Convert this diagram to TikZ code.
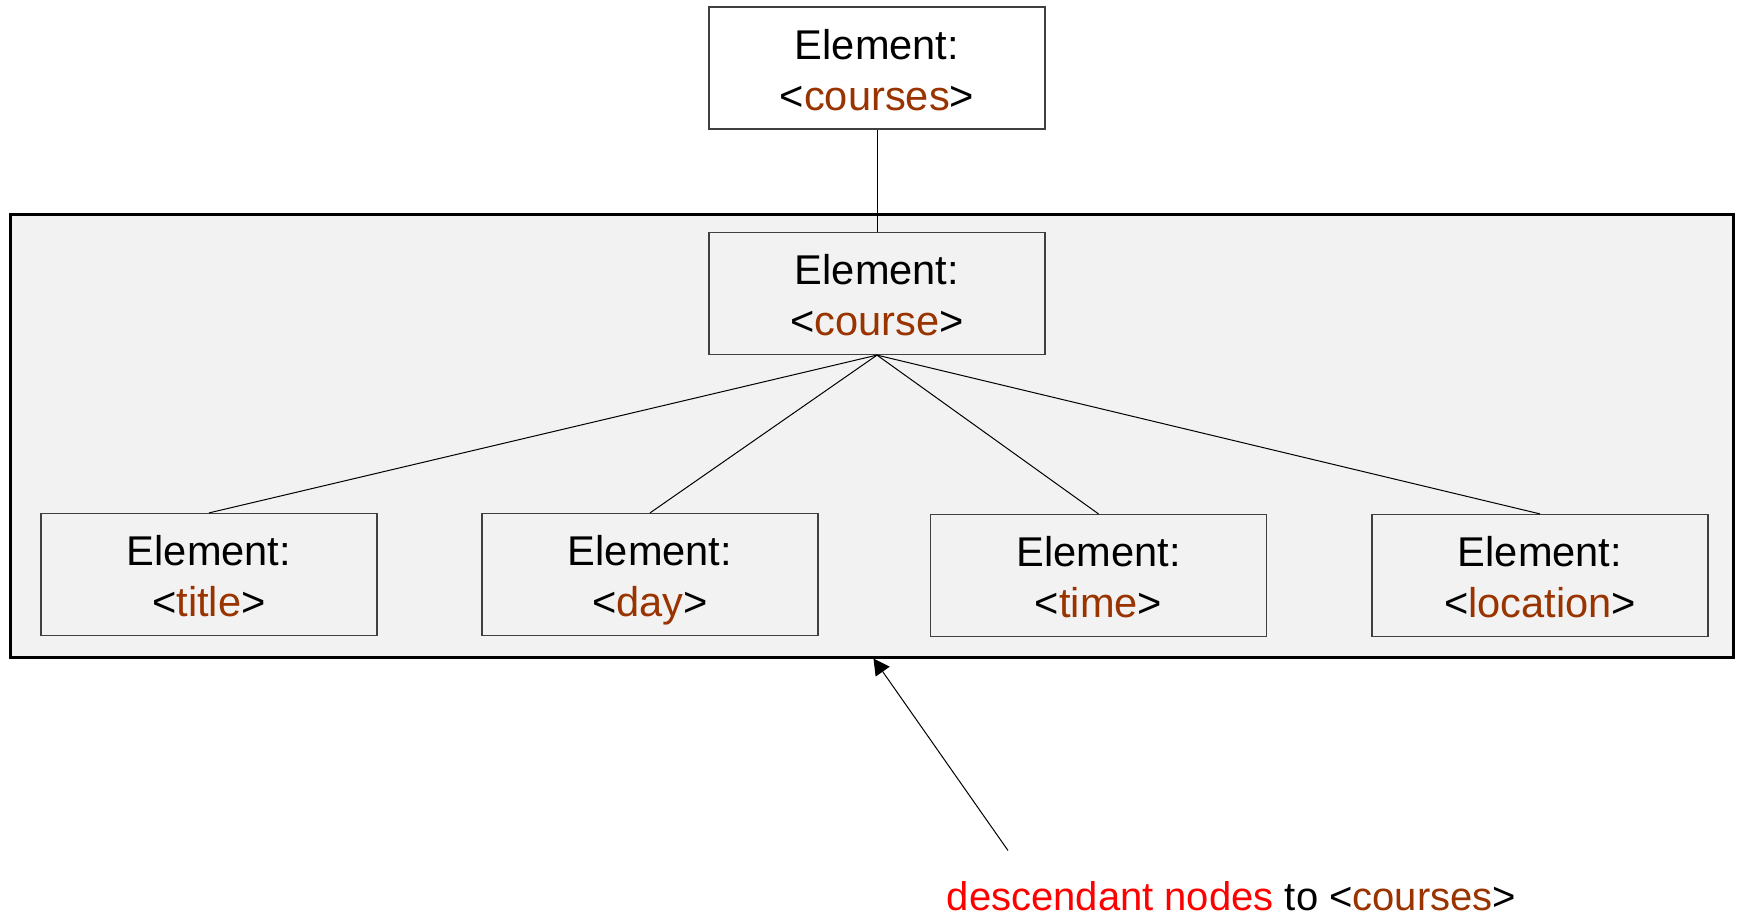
\documentclass[tikz,border=0pt]{standalone}
\usepackage{fontspec}
\usetikzlibrary{arrows.meta}
\setmainfont{Liberation Sans}
\definecolor{tagbrown}{HTML}{993300}
\definecolor{groupgray}{HTML}{F2F2F2}
\newcommand{\elem}[1]{Element:\\<\textcolor{tagbrown}{#1}>}
\tikzset{
  elbox/.style={draw=black!75,line width=.6pt,minimum width=168pt,minimum height=61pt,
    align=center,font=\fontsize{20.8}{25.5}\selectfont,text height=42pt,text depth=0pt},
  link/.style={line width=.5pt}
}
\begin{document}
\begin{tikzpicture}[x=.5pt,y=-.5pt]
\useasboundingbox(0,0)rectangle(1741,917);
% grey group round the descendants
\node[draw,line width=1.5pt,fill=groupgray,minimum width=861.5pt,minimum height=221.5pt](group)at(871.5,435.5){};
\node[elbox,fill=white](courses)at(877,68){\elem{courses}};
\node[elbox](course)at(877,293.5){\elem{course}};
\node[elbox](title)at(209,574.5){\elem{title}};
\node[elbox](day)at(650,574.5){\elem{day}};
\node[elbox](time)at(1098.5,575.5){\elem{time}};
\node[elbox](location)at(1540,575.5){\elem{location}};
\draw[link](courses.south)--(course.north);
\foreach \c in {title,day,time,location}
  \draw[link](course.south)--(\c.north);
% pointer to the group
\coordinate(tail)at(1008,850.5);
\draw[link,-{Triangle[length=8pt,width=8.5pt]}](tail)--([xshift=1pt]group.south);
\node[font=\fontsize{20}{24}\selectfont](note)at(1231.5,896)
  {\textcolor{red}{descendant nodes} to <\textcolor{tagbrown}{courses}>};
\end{tikzpicture}
\end{document}
